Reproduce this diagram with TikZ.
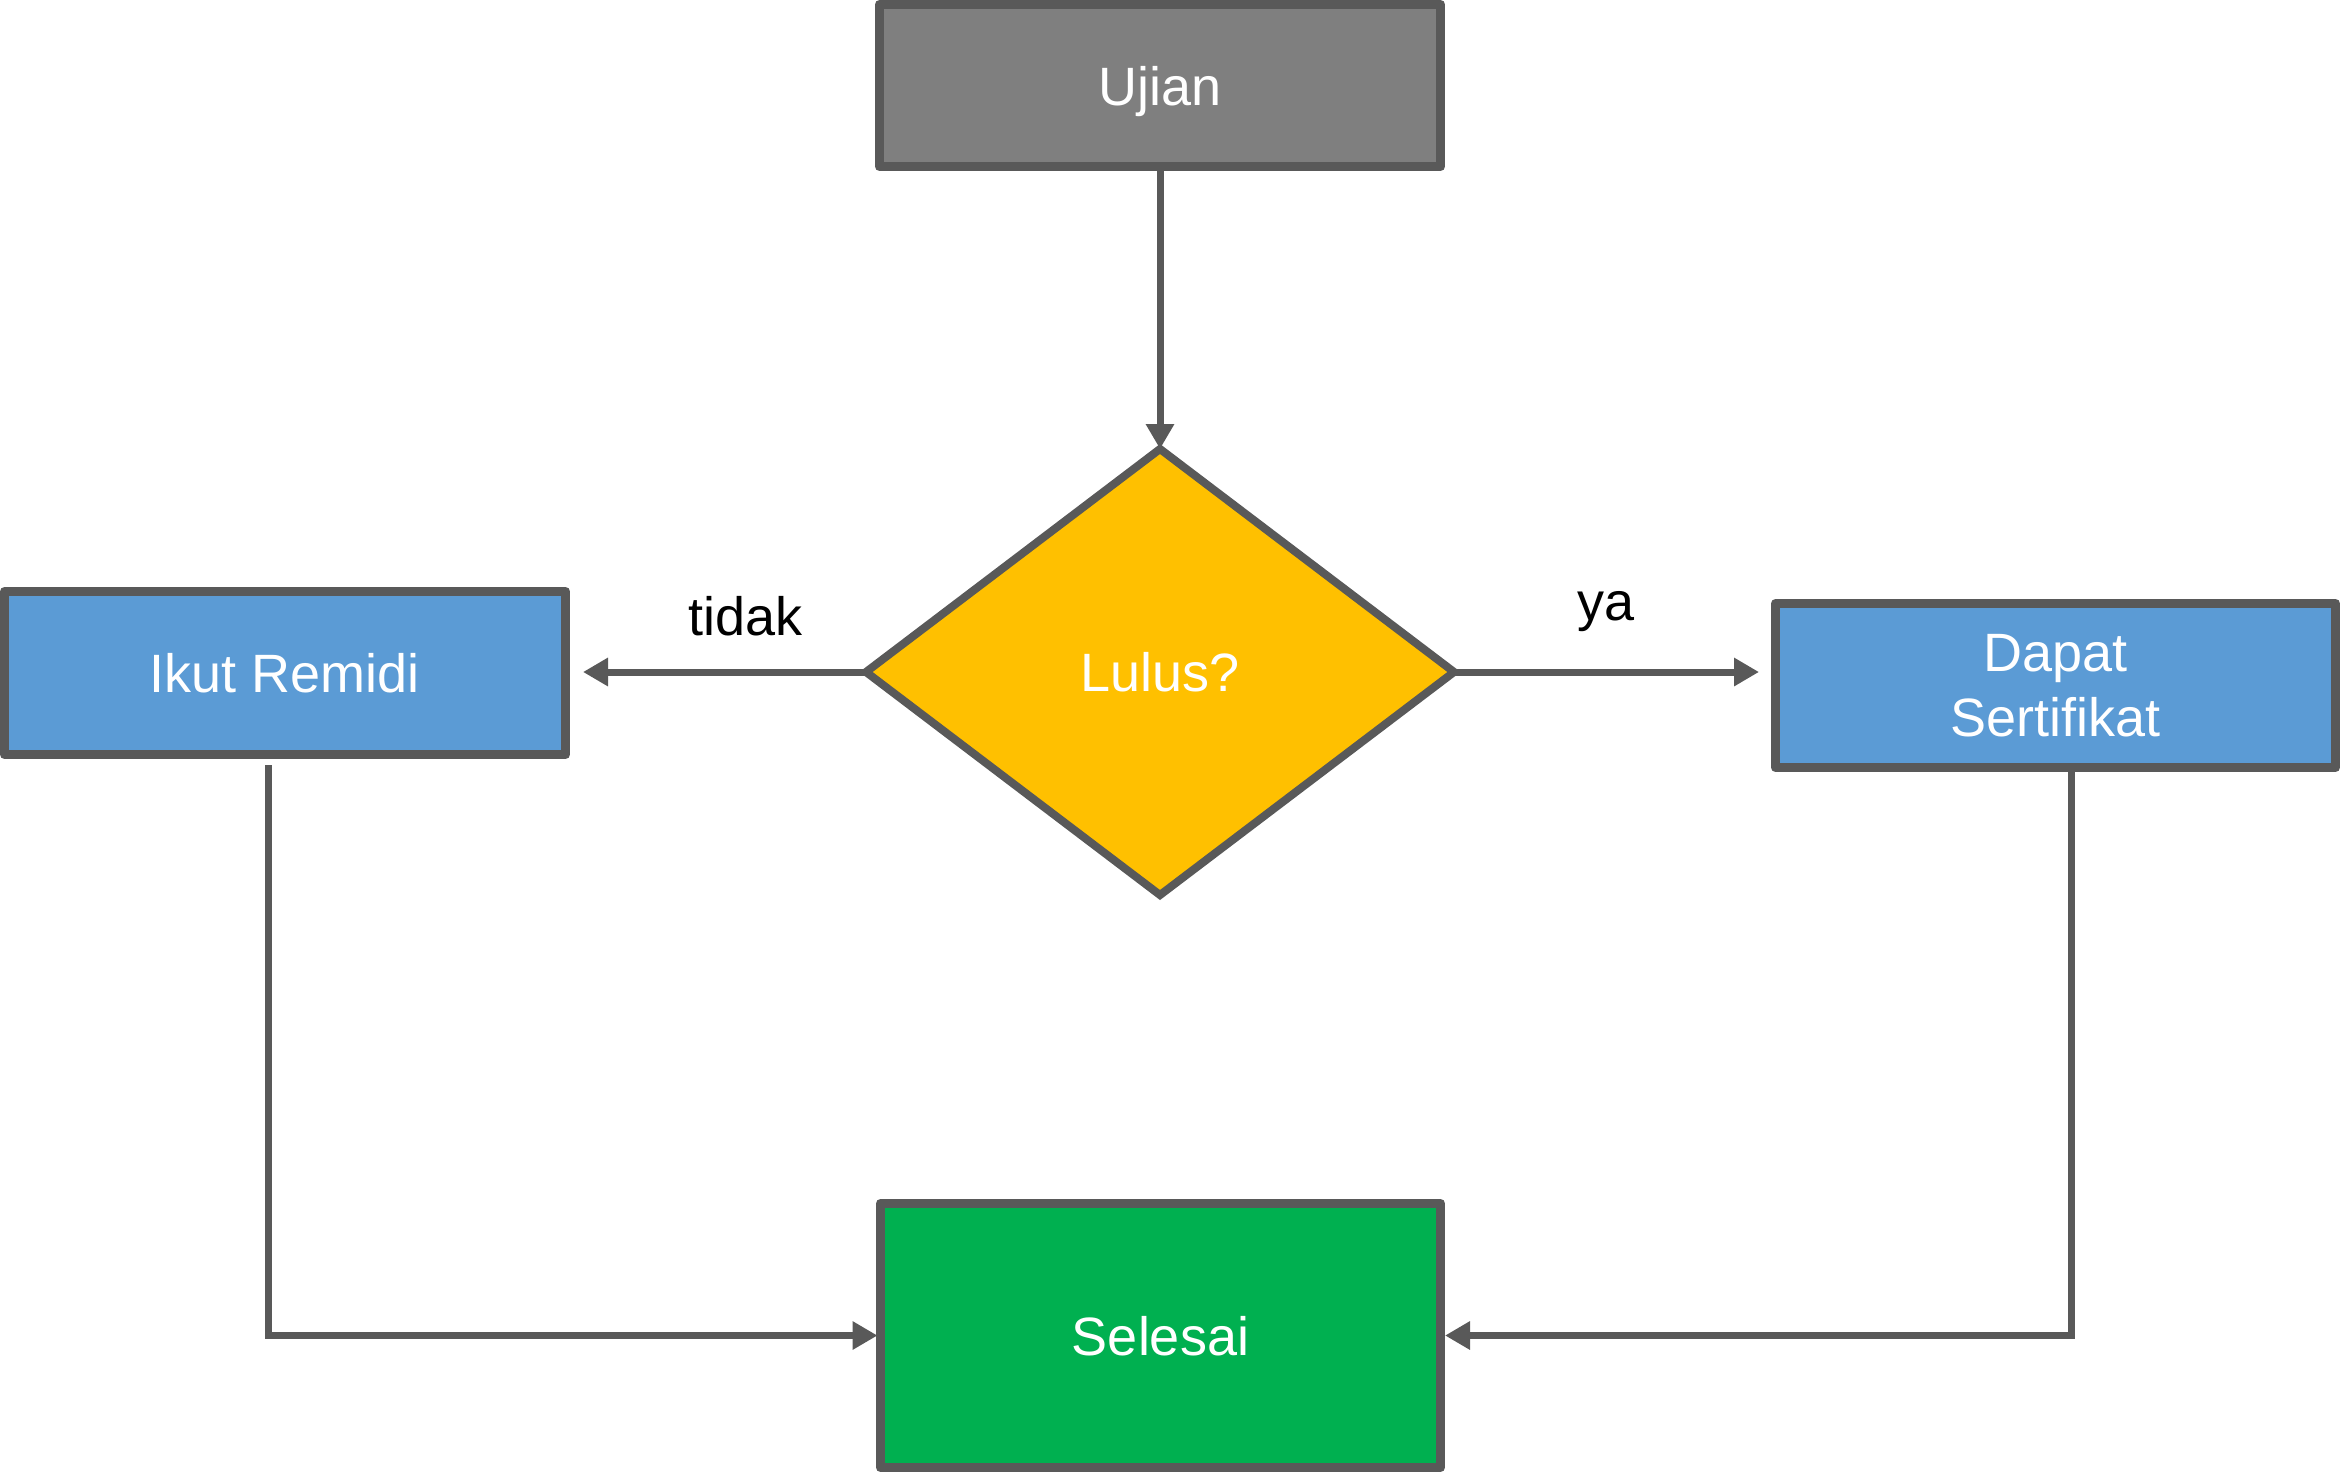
\documentclass[tikz,border=0pt]{standalone}
\usepackage{fontspec}
\setmainfont{Liberation Sans}
\usetikzlibrary{arrows.meta,shapes.geometric}
\definecolor{edgegray}{HTML}{595959}
\definecolor{grayfill}{HTML}{7F7F7F}
\definecolor{bluefill}{HTML}{5B9BD5}
\definecolor{yellowfill}{HTML}{FFC000}
\definecolor{greenfill}{HTML}{00B050}
\begin{document}
\begin{tikzpicture}[x=1pt,y=-1pt,
  bigfont/.style={font=\fontsize{54}{65}\selectfont},
  box/.style={rectangle, draw=edgegray, line width=9pt, line join=round,
    inner sep=0pt, outer sep=0pt, text=white, bigfont, align=center},
  oneline/.style={text height=39pt, text depth=0pt},
  decision/.style={diamond, draw=edgegray, fill=yellowfill, line width=8pt,
    inner sep=0pt, outer sep=0pt, minimum width=588pt, minimum height=446pt,
    text=white, bigfont},
  conn/.style={draw=edgegray, line width=7pt, -{Triangle[length=25pt,width=27pt]}},
  lbl/.style={text=black, bigfont, inner sep=0pt, anchor=base}]
\useasboundingbox (0,0) rectangle (2342,1472);

\node[box, oneline, fill=grayfill, minimum width=561pt, minimum height=162pt] (ujian) at (1160,85.5) {Ujian};
\node[decision, oneline] (lulus) at (1160,672) {Lulus?};
\node[box, oneline, fill=bluefill, minimum width=561pt, minimum height=163pt] (ikut) at (285,673) {Ikut Remidi};
\node[box, fill=bluefill, minimum width=560pt, minimum height=164pt] (dapat) at (2055.5,685.5) {Dapat\\Sertifikat};
\node[box, oneline, fill=greenfill, minimum width=560pt, minimum height=264pt] (selesai) at (1160.5,1335.5) {Selesai};

\node[lbl] (tidak) at (745.5,635) {tidak};
\node[lbl] (ya) at (1605.5,620) {ya};

\draw[conn] ([yshift=-4pt]ujian.south) -- (lulus.north);
\draw[conn] (lulus.west) -- ([xshift=17.5pt]lulus.west -| ikut.east);
\draw[conn] (lulus.east) -- ([xshift=-16.5pt]lulus.east -| dapat.west);
\draw[conn] ([xshift=-17pt,yshift=-10.5pt]ikut.south) |- ([xshift=-3pt]selesai.west);
\draw[conn] ([xshift=15.5pt,yshift=-4.5pt]dapat.south) |- ([xshift=4.5pt]selesai.east);
\end{tikzpicture}
\end{document}
